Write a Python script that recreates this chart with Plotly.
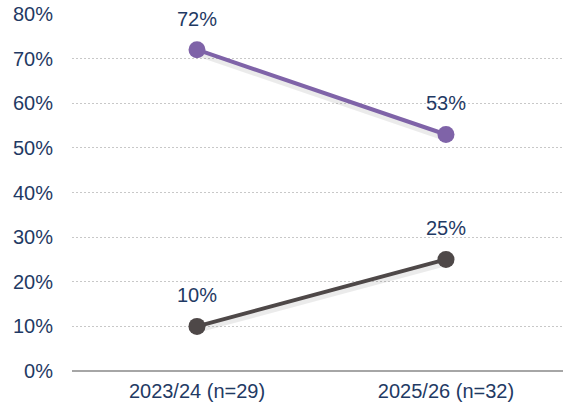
import plotly.graph_objects as go

categories = ["2023/24 (n=29)", "2025/26 (n=32)"]
series_a = [72, 53]
series_b = [10, 25]
labels_a = ["72%", "53%"]
labels_b = ["10%", "25%"]
y_ticks = [0, 10, 20, 30, 40, 50, 60, 70, 80]
y_tick_text = [f"{v}%" for v in y_ticks]

font_color = "#1F3A64"
FONT = "Liberation Sans, Arial"
fig = go.Figure()
for vals, labs, col in [(series_a, labels_a, "#7F63A8"), (series_b, labels_b, "#4E4848")]:
    # soft shadow
    fig.add_trace(go.Scatter(
        x=[0, 1], y=[v - 0.8 for v in vals], mode="lines",
        line=dict(color="rgba(0,0,0,0.08)", width=6),
        showlegend=False, hoverinfo="skip",
    ))
    fig.add_trace(go.Scatter(
        x=[0, 1], y=vals, mode="lines+markers",
        line=dict(color=col, width=4), marker=dict(color=col, size=17),
        showlegend=False, cliponaxis=False,
    ))
    for i, (v, t) in enumerate(zip(vals, labs)):
        fig.add_annotation(x=i, y=v, text=t, showarrow=False, yshift=31,
                           font=dict(family=FONT, size=20, color=font_color))

fig.update_layout(
    width=563, height=407, margin=dict(l=72, r=0, t=14, b=36),
    paper_bgcolor="white", plot_bgcolor="white",
    font=dict(family=FONT, size=20, color=font_color),
    xaxis=dict(range=[-0.502, 1.47], tickvals=[0, 1], ticktext=categories,
               showgrid=False, zeroline=False, showline=False, ticks="",
               ticklabelstandoff=6),
    yaxis=dict(range=[0, 80], tickvals=y_ticks, ticktext=y_tick_text,
               showgrid=True, gridcolor="#C8C8C8", griddash="2px,2px", gridwidth=1,
               zeroline=True, zerolinecolor="#A6A6A6", zerolinewidth=1.5,
               ticks="", ticklabelstandoff=18),
)
fig.write_html("out.html")
